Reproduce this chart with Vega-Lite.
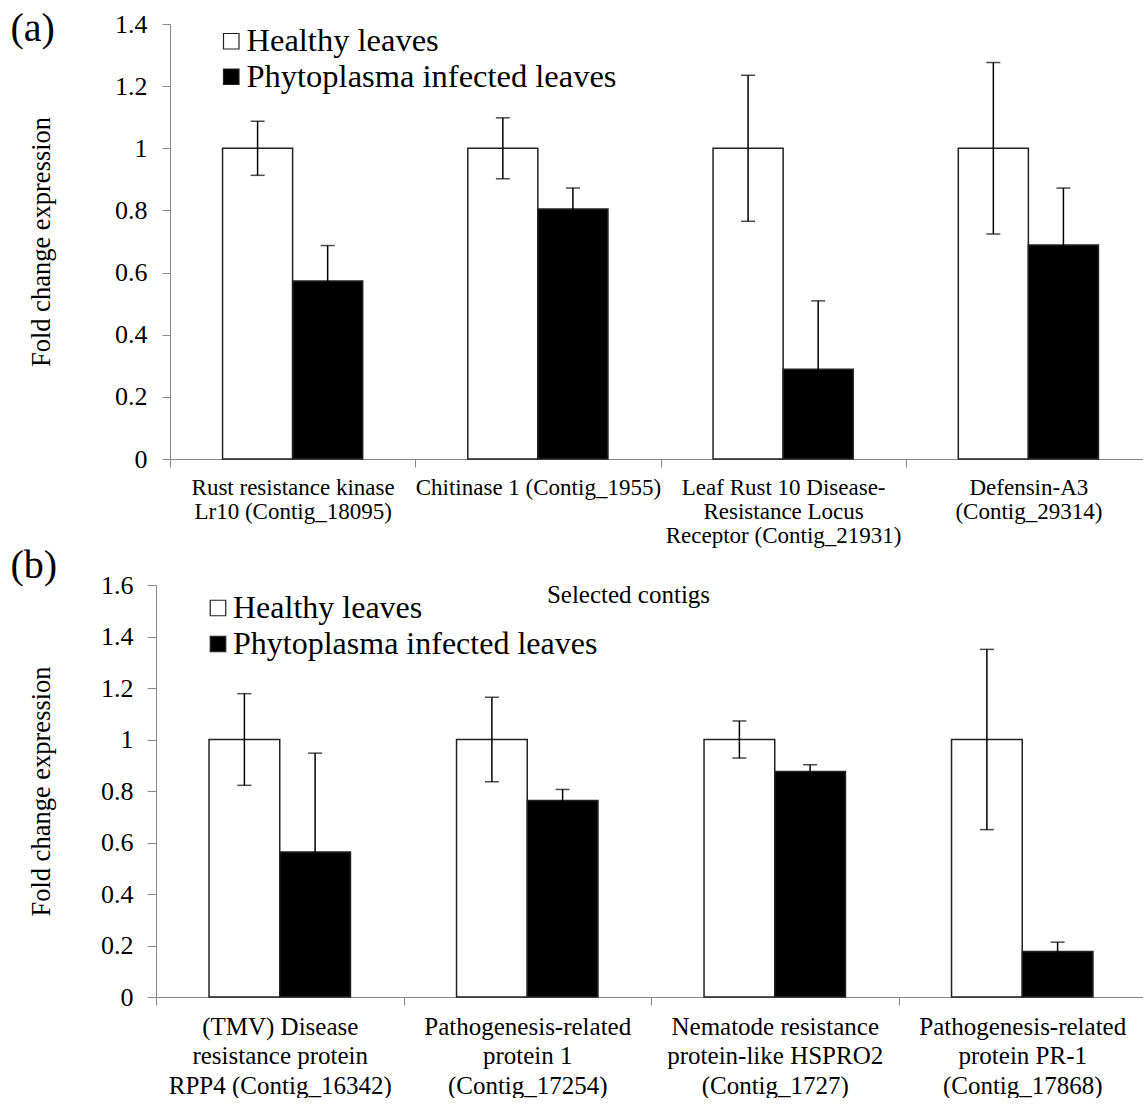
{
  "$schema": "https://vega.github.io/schema/vega-lite/v6.json",
  "background": "white",
  "padding": {"left": 10, "top": 9, "right": -9, "bottom": 0},
  "columns": 1,
  "align": "none",
  "spacing": {"row": -61},
  "datasets": {
    "a": [
      {"gene": "Rust resistance kinase|Lr10 (Contig_18095)", "group": "Healthy leaves", "value": 1, "lo": 0.913, "hi": 1.087},
      {"gene": "Rust resistance kinase|Lr10 (Contig_18095)", "group": "Phytoplasma infected leaves", "value": 0.573, "lo": 0.459, "hi": 0.687},
      {"gene": "Chitinase 1 (Contig_1955)", "group": "Healthy leaves", "value": 1, "lo": 0.902, "hi": 1.098},
      {"gene": "Chitinase 1 (Contig_1955)", "group": "Phytoplasma infected leaves", "value": 0.805, "lo": 0.738, "hi": 0.872},
      {"gene": "Leaf Rust 10 Disease-|Resistance Locus|Receptor (Contig_21931)", "group": "Healthy leaves", "value": 1, "lo": 0.765, "hi": 1.235},
      {"gene": "Leaf Rust 10 Disease-|Resistance Locus|Receptor (Contig_21931)", "group": "Phytoplasma infected leaves", "value": 0.289, "lo": 0.069, "hi": 0.509},
      {"gene": "Defensin-A3|(Contig_29314)", "group": "Healthy leaves", "value": 1, "lo": 0.724, "hi": 1.276},
      {"gene": "Defensin-A3|(Contig_29314)", "group": "Phytoplasma infected leaves", "value": 0.689, "lo": 0.506, "hi": 0.872}
    ],
    "b": [
      {"gene": "(TMV) Disease|resistance protein|RPP4 (Contig_16342)", "group": "Healthy leaves", "value": 1, "lo": 0.822, "hi": 1.178},
      {"gene": "(TMV) Disease|resistance protein|RPP4 (Contig_16342)", "group": "Phytoplasma infected leaves", "value": 0.563, "lo": 0.179, "hi": 0.947},
      {"gene": "Pathogenesis-related|protein 1|(Contig_17254)", "group": "Healthy leaves", "value": 1, "lo": 0.836, "hi": 1.164},
      {"gene": "Pathogenesis-related|protein 1|(Contig_17254)", "group": "Phytoplasma infected leaves", "value": 0.763, "lo": 0.72, "hi": 0.806},
      {"gene": "Nematode resistance|protein-like HSPRO2|(Contig_1727)", "group": "Healthy leaves", "value": 1, "lo": 0.928, "hi": 1.072},
      {"gene": "Nematode resistance|protein-like HSPRO2|(Contig_1727)", "group": "Phytoplasma infected leaves", "value": 0.876, "lo": 0.85, "hi": 0.902},
      {"gene": "Pathogenesis-related|protein PR-1|(Contig_17868)", "group": "Healthy leaves", "value": 1, "lo": 0.65, "hi": 1.35},
      {"gene": "Pathogenesis-related|protein PR-1|(Contig_17868)", "group": "Phytoplasma infected leaves", "value": 0.177, "lo": 0.141, "hi": 0.213}
    ]
  },
  "concat": [
    {
      "width": 995,
      "height": 435,
      "title": {"text": "(a)", "anchor": "start", "frame": "bounds", "fontSize": 40, "fontWeight": "normal", "offset": -38, "dx": -18},
      "data": {"name": "a"},
      "encoding": {
        "x": {
          "field": "gene", "type": "nominal", "sort": null,
          "scale": {"paddingInner": 0, "paddingOuter": 0, "range": [14, 995]},
          "axis": {
            "title": "Selected contigs", "titleFontSize": 25, "titleFontWeight": "normal", "titlePadding": 35, "titleX": 472,
            "labelExpr": "split(datum.label, '|')", "labelFontSize": 23, "labelLineHeight": 24, "labelLimit": 400,
            "labelAngle": 0, "labelPadding": 9, "tickSize": 8, "tickBand": "extent", "labelOverlap": false,
            "domainColor": "#888", "tickColor": "#888", "labelColor": "black", "titleColor": "black"
          }
        },
        "xOffset": {"field": "group", "type": "nominal", "scale": {"paddingInner": 0, "paddingOuter": 0.75}}
      },
      "layer": [
        {
          "mark": {"type": "bar", "stroke": "#222", "strokeWidth": 1.5},
          "encoding": {
            "y": {
              "field": "value", "type": "quantitative",
              "scale": {"domain": [0, 1.4], "nice": false},
              "axis": {
                "offset": -14,
                "title": "Fold change expression", "titleFontSize": 26.5, "titleFontWeight": "normal", "titlePadding": 59,
                "labelFontSize": 26, "tickSize": 8, "labelPadding": 15, "values": [0, 0.2, 0.4, 0.6, 0.8, 1, 1.2, 1.4],
                "format": "~g", "grid": false, "domainColor": "#888", "tickColor": "#888", "labelColor": "black", "titleColor": "black"
              }
            },
            "fill": {
              "field": "group", "type": "nominal",
              "scale": {"domain": ["Healthy leaves", "Phytoplasma infected leaves"], "range": ["white", "black"]},
              "legend": {
                "title": null, "orient": "none", "legendX": 59, "legendY": 1, "symbolType": "square", "symbolSize": 240,
                "symbolStrokeColor": "#222", "symbolStrokeWidth": 1.2, "labelFontSize": 32.5, "labelOffset": -1, "rowPadding": 2.5,
                "labelColor": "black", "labelLimit": 600
              }
            }
          }
        },
        {
          "mark": {"type": "rule", "color": "black", "strokeWidth": 1.5},
          "encoding": {"y": {"field": "lo", "type": "quantitative"}, "y2": {"field": "hi"}}
        },
        {
          "mark": {"type": "tick", "color": "black", "thickness": 1.5, "size": 14},
          "encoding": {"y": {"field": "lo", "type": "quantitative"}}
        },
        {
          "mark": {"type": "tick", "color": "black", "thickness": 1.5, "size": 14},
          "encoding": {"y": {"field": "hi", "type": "quantitative"}}
        }
      ]
    },
    {
      "width": 990,
      "height": 412,
      "title": {"text": "(b)", "anchor": "start", "frame": "bounds", "fontSize": 40, "fontWeight": "normal", "offset": -14, "dx": -18},
      "data": {"name": "b"},
      "encoding": {
        "x": {
          "field": "gene", "type": "nominal", "sort": null,
          "scale": {"paddingInner": 0, "paddingOuter": 0},
          "axis": {
            "title": null,
            "labelExpr": "split(datum.label, '|')", "labelFontSize": 25, "labelLineHeight": 29.5, "labelLimit": 400,
            "labelAngle": 0, "labelPadding": 9, "tickSize": 8, "tickBand": "extent", "labelOverlap": false,
            "domainColor": "#888", "tickColor": "#888", "labelColor": "black"
          }
        },
        "xOffset": {"field": "group", "type": "nominal", "scale": {"paddingInner": 0, "paddingOuter": 0.75}}
      },
      "layer": [
        {
          "mark": {"type": "bar", "stroke": "#222", "strokeWidth": 1.5},
          "encoding": {
            "y": {
              "field": "value", "type": "quantitative",
              "scale": {"domain": [0, 1.6], "nice": false},
              "axis": {
                "title": "Fold change expression", "titleFontSize": 26.5, "titleFontWeight": "normal", "titlePadding": 45,
                "labelFontSize": 26, "tickSize": 9, "labelPadding": 14, "values": [0, 0.2, 0.4, 0.6, 0.8, 1, 1.2, 1.4, 1.6],
                "format": "~g", "grid": false, "domainColor": "#888", "tickColor": "#888", "labelColor": "black", "titleColor": "black"
              }
            },
            "fill": {
              "field": "group", "type": "nominal",
              "scale": {"domain": ["Healthy leaves", "Phytoplasma infected leaves"], "range": ["white", "black"]},
              "legend": {
                "title": null, "orient": "none", "legendX": 46, "legendY": 7, "symbolType": "square", "symbolSize": 240,
                "symbolStrokeColor": "#222", "symbolStrokeWidth": 1.2, "labelFontSize": 32, "labelOffset": -1, "rowPadding": 4,
                "labelColor": "black", "labelLimit": 600
              }
            }
          }
        },
        {
          "mark": {"type": "rule", "color": "black", "strokeWidth": 1.5},
          "encoding": {"y": {"field": "lo", "type": "quantitative"}, "y2": {"field": "hi"}}
        },
        {
          "mark": {"type": "tick", "color": "black", "thickness": 1.5, "size": 14},
          "encoding": {"y": {"field": "lo", "type": "quantitative"}}
        },
        {
          "mark": {"type": "tick", "color": "black", "thickness": 1.5, "size": 14},
          "encoding": {"y": {"field": "hi", "type": "quantitative"}}
        }
      ]
    }
  ],
  "resolve": {"scale": {"fill": "independent", "x": "independent", "y": "independent", "xOffset": "independent"}, "legend": {"fill": "independent"}},
  "config": {
    "font": "Liberation Serif",
    "view": {"stroke": null},
    "title": {"color": "black"}
  }
}
